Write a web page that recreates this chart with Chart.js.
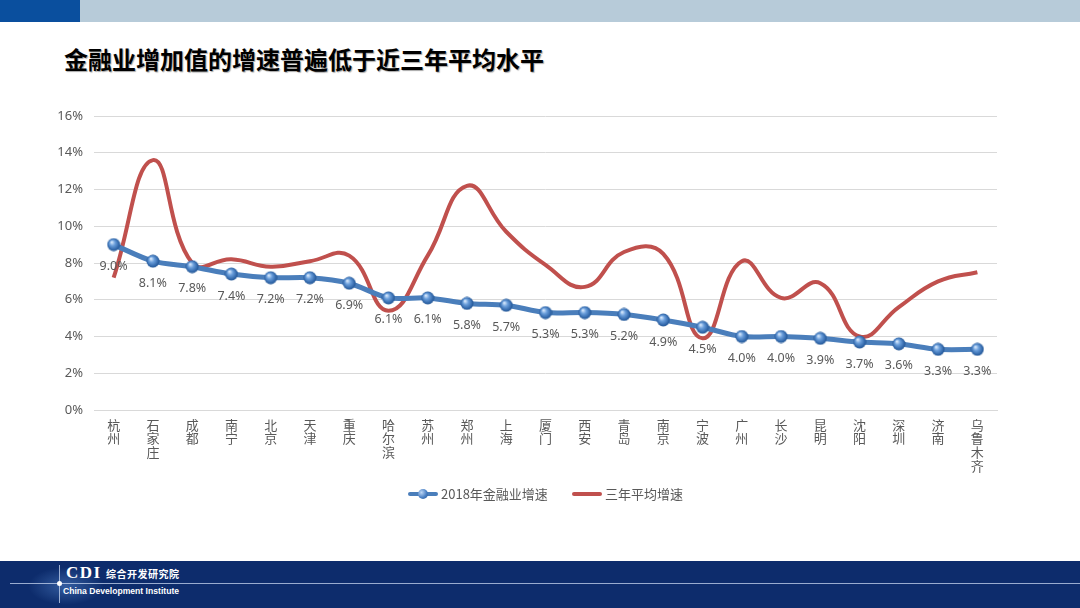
<!DOCTYPE html>
<html>
<head>
<meta charset="utf-8">
<script src="https://cdn.jsdelivr.net/npm/chart.js@4"></script>
<style>
  html,body{margin:0;padding:0;width:1080px;height:608px;overflow:hidden;background:#fff;font-family:"Noto Sans CJK SC","Noto Sans",sans-serif;}
  #topbar{position:absolute;left:0;top:0;width:1080px;height:22px;background:#b7cbd9;}
  #topbar .blk{position:absolute;left:0;top:0;width:80px;height:22px;background:#0a4f9e;}
  #title{position:absolute;left:64px;top:42px;font-size:24px;font-weight:bold;color:#000;letter-spacing:0px;text-shadow:1px 1px 1px rgba(0,0,0,0.35);white-space:nowrap;line-height:34px;}
  #footer{position:absolute;left:0;top:561px;width:1080px;height:47px;background:#0d2c6c;overflow:hidden;}
  #footer .map{position:absolute;left:28px;top:6px;width:76px;height:38px;border-radius:40% 50% 45% 40%;background:radial-gradient(ellipse at center, rgba(90,140,210,0.5), rgba(13,44,108,0) 70%);}
  #footer .hline{position:absolute;left:10px;top:22px;width:1070px;height:1px;background:rgba(200,215,240,0.75);}
  #footer .vline{position:absolute;left:59px;top:4px;width:1px;height:38px;background:rgba(200,215,240,0.75);}
  #footer .dot{position:absolute;left:57px;top:20px;width:5px;height:5px;border-radius:50%;background:#fff;}
  #footer .cdi{position:absolute;left:66px;top:3px;color:#fff;font-family:"Liberation Serif","DejaVu Serif",serif;font-weight:bold;font-size:17px;line-height:18px;letter-spacing:1.5px;}
  #footer .cn{position:absolute;left:106px;top:6px;color:#fff;font-size:10px;font-weight:bold;line-height:13px;letter-spacing:0.5px;}
  #footer .en{position:absolute;left:63px;top:24px;color:#fff;font-family:"Liberation Sans","DejaVu Sans",sans-serif;font-size:8.6px;font-weight:bold;line-height:12px;}
  #chartwrap{position:absolute;left:0;top:0;width:1080px;height:608px;}
  #legend{position:absolute;left:0;top:484px;width:1080px;height:20px;font-size:13px;color:#595959;}
  .li{position:absolute;top:0;height:20px;line-height:20px;white-space:nowrap;}
  .ln{position:absolute;top:8px;width:30px;height:4px;border-radius:2px;}
  .mk{position:absolute;top:5px;left:10px;width:10px;height:10px;border-radius:50%;background:radial-gradient(circle at 35% 35%, #bcd6f5, #4a80c4 55%, #25558f);}
</style>
</head>
<body>
<div id="topbar"><div class="blk"></div></div>
<div id="title">金融业增加值的增速普遍低于近三年平均水平</div>
<div id="chartwrap"><canvas id="c" width="1080" height="608"></canvas></div>
<div id="legend">
  <div class="li" style="left:408px;"><div class="ln" style="left:0;background:#4a7ebb;"></div><div class="mk"></div><span style="margin-left:33px;">2018年金融业增速</span></div>
  <div class="li" style="left:572px;"><div class="ln" style="left:0;background:#c0504d;"></div><span style="margin-left:33px;">三年平均增速</span></div>
</div>
<div id="footer">
  <div class="map"></div>
  <div class="hline"></div>
  <div class="vline"></div>
  <div class="dot"></div>
  <div class="cdi">CDI</div>
  <div class="cn">综合开发研究院</div>
  <div class="en">China Development Institute</div>
</div>
<script>
const cities = ["杭州","石家庄","成都","南宁","北京","天津","重庆","哈尔滨","苏州","郑州","上海","厦门","西安","青岛","南京","宁波","广州","长沙","昆明","沈阳","深圳","济南","乌鲁木齐"];
const growth2018 = [9.0,8.1,7.8,7.4,7.2,7.2,6.9,6.1,6.1,5.8,5.7,5.3,5.3,5.2,4.9,4.5,4.0,4.0,3.9,3.7,3.6,3.3,3.3];
const avg3yr = [7.2,13.6,8.0,8.2,7.8,8.1,8.4,5.4,8.4,12.2,9.7,7.9,6.7,8.6,8.5,3.9,8.1,6.1,6.9,4.0,5.6,7.0,7.5];
const seriesNames = ["2018年金融业增速","三年平均增速"];
const yTicks = [0,2,4,6,8,10,12,14,16];

// sphere marker image
const sphere = document.createElement('canvas');
sphere.width = 14; sphere.height = 14;
(function(){
  const g = sphere.getContext('2d');
  const grd = g.createRadialGradient(5,4.5,0.5,7,7,7);
  grd.addColorStop(0,'#d4e6fb');
  grd.addColorStop(0.35,'#6a9edb');
  grd.addColorStop(0.8,'#2f65a8');
  grd.addColorStop(1,'#22528c');
  g.fillStyle = grd;
  g.beginPath(); g.arc(7,7,6.5,0,Math.PI*2); g.fill();
})();

const labelPlugin = {
  id:'valueLabels',
  afterDatasetsDraw(chart){
    const meta = chart.getDatasetMeta(0);
    const ctx = chart.ctx;
    ctx.save();
    ctx.font = '12.5px "Noto Sans", "Open Sans", sans-serif';
    ctx.fillStyle = '#595959';
    ctx.textAlign = 'center';
    ctx.textBaseline = 'middle';
    meta.data.forEach((pt,i)=>{
      ctx.fillText(growth2018[i].toFixed(1)+'%', pt.x, pt.y+22);
    });
    ctx.restore();
  }
};

new Chart(document.getElementById('c'),{
  type:'line',
  data:{
    labels: cities.map(s=>s.split('')),
    datasets:[
      {label:seriesNames[0],data:growth2018,borderColor:'#4a7ebb',borderWidth:5,tension:0.3,
       pointStyle:sphere,pointRadius:7,pointHoverRadius:7,order:0},
      {label:seriesNames[1],data:avg3yr,borderColor:'#c0504d',borderWidth:4,tension:0.45,
       pointRadius:0,pointHoverRadius:0,order:1}
    ]
  },
  options:{
    responsive:false,
    animation:false,
    events:[],
    layout:{padding:{left:44,right:83,top:116,bottom:108}},
    plugins:{legend:{display:false},tooltip:{enabled:false}},
    scales:{
      x:{
        offset:true,
        grid:{display:false,drawTicks:false},
        border:{display:true,color:'#d9d9d9',width:1},
        ticks:{color:'#595959',font:{family:'"Noto Sans CJK SC"',size:13,lineHeight:1.05},padding:8,maxRotation:0,autoSkip:false},
        afterFit(s){s.height=90;}
      },
      y:{
        min:0,max:16,
        afterBuildTicks(s){s.ticks = yTicks.map(v=>({value:v}));},
        grid:{color:'#d9d9d9',lineWidth:1,drawTicks:false},
        border:{display:false},
        ticks:{color:'#595959',font:{family:'"Noto Sans","Open Sans",sans-serif',size:13},padding:11,callback:v=>v+'%'},
        afterFit(s){s.width=50;}
      }
    }
  },
  plugins:[labelPlugin]
});
</script>
</body>
</html>
